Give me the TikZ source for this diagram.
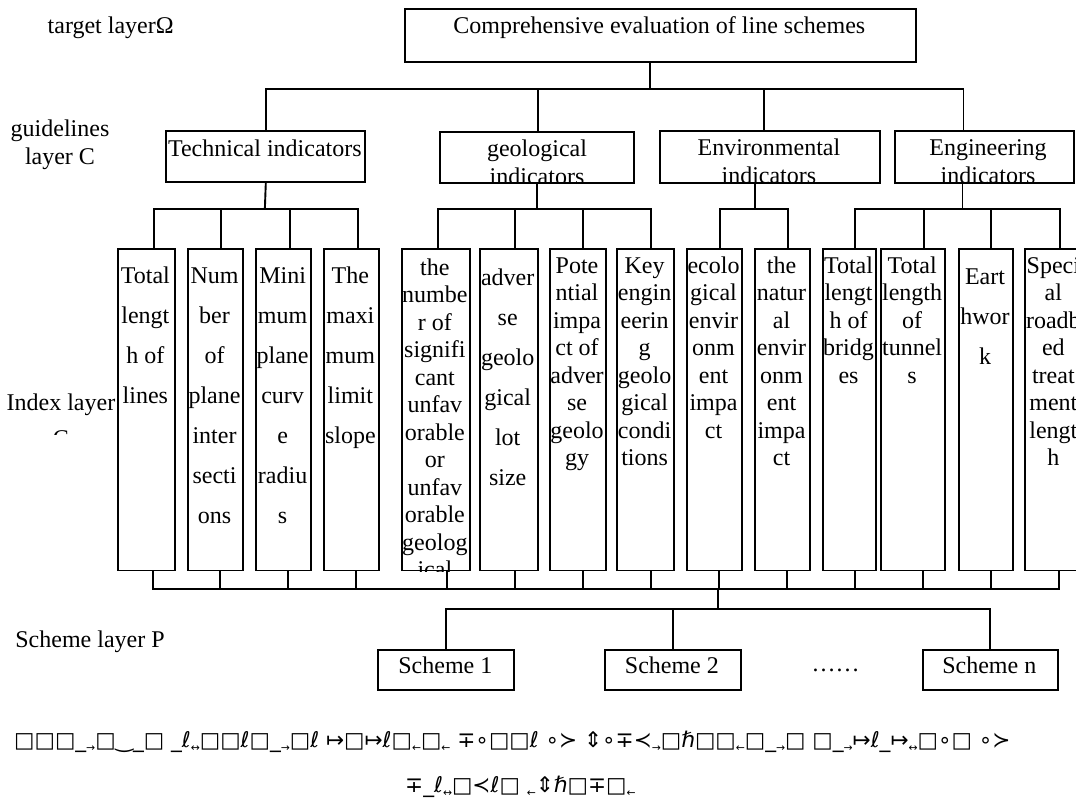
\documentclass[tikz,border=0pt]{standalone}
\usepackage{fontspec}
\setmainfont{Liberation Serif}
\newfontfamily\glyphfont{DejaVu Sans}
\usetikzlibrary{calc}
\newcommand\sarr[1]{\raisebox{-0.35ex}{\scalebox{0.5}{#1}}}
\tikzset{
  conn/.style={line width=1.9pt},
  box/.style={draw, line width=1.9pt, rectangle, inner sep=0pt, anchor=north west},
  leafbox/.style={box, minimum height=321.5pt},
  txt/.style={anchor=base, inner sep=0pt, font=\fontsize{24}{27.5}\selectfont},
  captxt/.style={anchor=base west, inner sep=0pt, font=\glyphfont\fontsize{21.6}{24}\selectfont},
}
\newcommand\leafnode[6]{%
  \node[leafbox, minimum width={#3pt-#2pt}] (#1) at (#2,248) {};
  \begin{scope}
    \clip (#1.south west) rectangle (#1.north east);
    \node[txt] (#1t) at ({(#2+#3)/2},#5) {\parbox[t]{110pt}{\centering\fontsize{24}{#4}\selectfont #6}};
  \end{scope}}
\begin{document}
\begin{tikzpicture}[x=1pt,y=-1pt]
\useasboundingbox (0,0) rectangle (1076,798);
\fill[white] (0,0) rectangle (1076,798);
\clip (0,0) rectangle (1076,798);

% layer labels
\node[txt, anchor=base west] (lbl0) at (47.5,33.3) {target layerΩ};
\node[txt] (lbl1) at (60,136.7) {\parbox[t]{120pt}{\centering\fontsize{24}{27.3}\selectfont guidelines\\layer C}};
\begin{scope}
  \clip (0,370) rectangle (116.7,434);
  \node[txt] (lbl2) at (61,410) {\parbox[t]{140pt}{\centering\fontsize{24}{36}\selectfont Index layer\\C}};
\end{scope}
\node[txt] (lbl3) at (90,647.3) {Scheme layer P};

% goal
\node[box, minimum width=511.4pt, minimum height=53.7pt] (goal) at (403.6,7.6) {};
\node[txt] (goalt) at (659.3,33.3) {Comprehensive evaluation of line schemes};

% criteria
\node[box, minimum width=199.1pt, minimum height=51pt] (T) at (165.3,130) {};
\node[txt] (Tt) at (264.85,156) {Technical indicators};
\node[box, minimum width=193.9pt, minimum height=50.7pt] (G) at (439.1,131) {};
\node[box, minimum width=220.5pt, minimum height=51.7pt] (E) at (658.6,130) {};
\node[box, minimum width=179.2pt, minimum height=51.7pt] (N) at (893.8,130) {};
\begin{scope}
  \clip (G.south west) rectangle (G.north east);
  \node[txt] (Gt) at (537,156) {\parbox[t]{200pt}{\centering\fontsize{24}{28}\selectfont geological\\indicators}};
\end{scope}
\begin{scope}
  \clip (E.south west) rectangle (E.north east);
  \node[txt] (Et) at (768.9,155) {\parbox[t]{200pt}{\centering\fontsize{24}{28}\selectfont Environmental\\indicators}};
\end{scope}
\begin{scope}
  \clip (N.south west) rectangle (N.north east);
  \node[txt] (Nt) at (988,155) {\parbox[t]{200pt}{\centering\fontsize{24}{28}\selectfont Engineering\\indicators}};
\end{scope}

% index leaves
\leafnode{L1}{116.7}{174}{40}{283.3}{Total\\lengt\\h of\\lines}
\leafnode{L2}{187}{242}{40}{283.3}{Num\\ber\\of\\plane\\inter\\secti\\ons}
\leafnode{L3}{255.3}{310}{40}{283.3}{Mini\\mum\\plane\\curv\\e\\radiu\\s}
\leafnode{L4}{322.7}{378}{40}{283.3}{The\\maxi\\mum\\limit\\slope}
\leafnode{L5}{400.7}{469}{27.5}{275}{the\\numbe\\r of\\signifi\\cant\\unfav\\orable\\or\\unfav\\orable\\geolog\\ical}
\leafnode{L6}{478.7}{536.7}{40}{285}{adver\\se\\geolo\\gical\\lot\\size}
\leafnode{L7}{549}{605}{27.5}{273.3}{Pote\\ntial\\impa\\ct of\\adver\\se\\geolo\\gy}
\leafnode{L8}{616}{673.3}{27.5}{273.3}{Key\\engin\\eerin\\g\\geolo\\gical\\condi\\tions}
\leafnode{L9}{686}{741}{27.5}{273.3}{ecolo\\gical\\envir\\onm\\ent\\impa\\ct}
\leafnode{L10}{754}{809}{27.5}{273.3}{the\\natur\\al\\envir\\onm\\ent\\impa\\ct}
\leafnode{L11}{821.7}{875.3}{27.5}{273.3}{Total\\lengt\\h of\\bridg\\es}
\leafnode{L12}{880}{944.3}{27.5}{273.3}{Total\\length\\of\\tunnel\\s}
\leafnode{L13}{958.3}{1011.7}{40}{284.3}{Eart\\hwor\\k}
\leafnode{L14}{1024}{1082.7}{27.5}{273.3}{Speci\\al\\roadb\\ed\\treat\\ment\\lengt\\h}

% schemes
\node[box, minimum width=135.9pt, minimum height=39.4pt] (S1) at (377.4,649.3) {};
\node[txt] (S1t) at (445.35,673.3) {Scheme 1};
\node[box, minimum width=135.8pt, minimum height=39.4pt] (S2) at (604,649.3) {};
\node[txt] (S2t) at (671.9,673.3) {Scheme 2};
\node[txt] (dots) at (835.5,671) {……};
\node[box, minimum width=135.2pt, minimum height=39.4pt] (Sn) at (921.7,649.3) {};
\node[txt] (Snt) at (989.3,673.3) {Scheme n};

% junctions
\coordinate (j0) at (650.4,89.3);
\coordinate (jT) at (264.85,209.3);
\coordinate (jG) at (537.2,209.3);
\coordinate (jE) at (754.7,209.3);
\coordinate (jN) at (962.5,209.3);
\coordinate (jB) at (717.7,589.3);
\coordinate (jS) at (717.7,609);

% goal -> criteria
\draw[conn] (j0 |- goal.south) -- (j0);
\draw[conn] (T.north) |- (j0);
\draw[conn] ([xshift=1.2pt]G.north) |- (j0);
\draw[conn] ([xshift=-5.7pt]E.north) |- (j0);
\draw[conn] ([xshift=-20.9pt]N.north) |- (j0);

% criteria -> indices
\draw[conn] (T.south) -- (jT);
\draw[conn] (jG |- G.south) -- (jG);
\draw[conn] (jE |- E.south) -- (jE);
\draw[conn] (jN |- N.south) -- (jN);
\draw[conn] ([xshift=7.35pt]L1.north) |- (jT);
\draw[conn] ([xshift=5.8pt]L2.north) |- (jT);
\draw[conn] ([xshift=6.05pt]L3.north) |- (jT);
\draw[conn] ([xshift=6.35pt]L4.north) |- (jT);
\draw[conn] ([xshift=1.85pt]L5.north) |- (jG);
\draw[conn] ([xshift=6.3pt]L6.north) |- (jG);
\draw[conn] ([xshift=5pt]L7.north) |- (jG);
\draw[conn] ([xshift=5.35pt]L8.north) |- (jG);
\draw[conn] ([xshift=5.8pt]L9.north) |- (jE);
\draw[conn] ([xshift=5.8pt]L10.north) |- (jE);
\draw[conn] ([xshift=5.5pt]L11.north) |- (jN);
\draw[conn] ([xshift=10.55pt]L12.north) |- (jN);
\draw[conn] ([xshift=5pt]L13.north) |- (jN);
\draw[conn] ([xshift=5.95pt]L14.north) |- (jN);

% indices -> schemes
\draw[conn] ([xshift=6.35pt]L1.south) |- (jB);
\draw[conn] ([xshift=4.5pt]L2.south) |- (jB);
\draw[conn] ([xshift=4.35pt]L3.south) |- (jB);
\draw[conn] ([xshift=4.65pt]L4.south) |- (jB);
\draw[conn] ([xshift=11.15pt]L5.south) |- (jB);
\draw[conn] ([xshift=6.3pt]L6.south) |- (jB);
\draw[conn] ([xshift=5pt]L7.south) |- (jB);
\draw[conn] ([xshift=5.35pt]L8.south) |- (jB);
\draw[conn] ([xshift=4.2pt]L9.south) |- (jB);
\draw[conn] ([xshift=4.5pt]L10.south) |- (jB);
\draw[conn] ([xshift=5.5pt]L11.south) |- (jB);
\draw[conn] ([xshift=9.85pt]L12.south) |- (jB);
\draw[conn] ([xshift=5pt]L13.south) |- (jB);
\draw[conn] ([xshift=4.95pt]L14.south) |- (jB);
\draw[conn] (jB) -- (jS);
\draw[conn] (S1.north) |- (jS);
\draw[conn] (S2.north) |- (jS);
\draw[conn] (Sn.north) |- (jS);

% caption (garbled glyphs as printed)
\node[captxt] (cap1) at (14,747)
 {□□□\_\sarr{→}□‿\_□ \_ℓ\sarr{↔}□□ℓ□\_\sarr{→}□ℓ ↦□↦ℓ□\sarr{←}□\sarr{←} ∓∘□□ℓ ∘≻ ⇕∘∓≺\sarr{→}□ℏ□□\sarr{←}□\_\sarr{→}□ □\_\sarr{→}↦ℓ\_↦\sarr{↔}□∘□ ∘≻};
\node[captxt] (cap2) at (405,792)
 {∓\_ℓ\sarr{↔}□≺ℓ□ \sarr{←}⇕ℏ□∓□\sarr{←}};
\end{tikzpicture}
\end{document}
